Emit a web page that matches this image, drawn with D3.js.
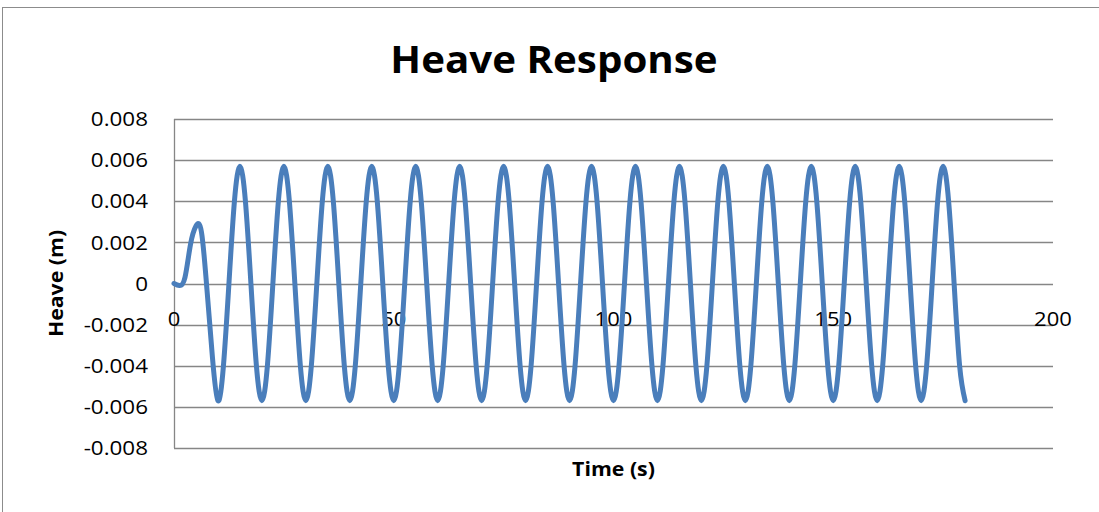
<!DOCTYPE html>
<html>
<head>
<meta charset="utf-8">
<script src="https://cdn.jsdelivr.net/npm/d3@7"></script>
<style>
  html, body { margin: 0; padding: 0; background: #fff; }
  svg { display: block; }
  text { font-family: "Open Sans", "Liberation Sans", sans-serif; fill: #000; }
</style>
</head>
<body>
<svg id="chart" width="1099" height="512"></svg>
<script>
// ---- data ----
const chartTitle = "Heave Response";
const xAxisTitle = "Time (s)";
const yAxisTitle = "Heave (m)";
const xTicks = [0, 50, 100, 150, 200];
const yTicks = [-0.008, -0.006, -0.004, -0.002, 0, 0.002, 0.004, 0.006, 0.008];
const yTickLabels = ["-0.008", "-0.006", "-0.004", "-0.002", "0", "0.002", "0.004", "0.006", "0.008"];

const time = [
  0, 1.25, 2.5, 3.75, 5, 6.25, 7.5, 8.75,
  10, 11.25, 12.5, 13.75, 15, 16.25, 17.5, 18.75,
  20, 21.25, 22.5, 23.75, 25, 26.25, 27.5, 28.75,
  30, 31.25, 32.5, 33.75, 35, 36.25, 37.5, 38.75,
  40, 41.25, 42.5, 43.75, 45, 46.25, 47.5, 48.75,
  50, 51.25, 52.5, 53.75, 55, 56.25, 57.5, 58.75,
  60, 61.25, 62.5, 63.75, 65, 66.25, 67.5, 68.75,
  70, 71.25, 72.5, 73.75, 75, 76.25, 77.5, 78.75,
  80, 81.25, 82.5, 83.75, 85, 86.25, 87.5, 88.75,
  90, 91.25, 92.5, 93.75, 95, 96.25, 97.5, 98.75,
  100, 101.25, 102.5, 103.75, 105, 106.25, 107.5, 108.75,
  110, 111.25, 112.5, 113.75, 115, 116.25, 117.5, 118.75,
  120, 121.25, 122.5, 123.75, 125, 126.25, 127.5, 128.75,
  130, 131.25, 132.5, 133.75, 135, 136.25, 137.5, 138.75,
  140, 141.25, 142.5, 143.75, 145, 146.25, 147.5, 148.75,
  150, 151.25, 152.5, 153.75, 155, 156.25, 157.5, 158.75,
  160, 161.25, 162.5, 163.75, 165, 166.25, 167.5, 168.75,
  170, 171.25, 172.5, 173.75, 175, 176.25, 177.5, 178.75,
  180
];

const heave = [
  0, -0.0001, 0.0003, 0.0019, 0.0028, 0.0025, -0.0003, -0.0036,
  -0.0057, -0.0040, 0, 0.0040, 0.0057, 0.0040, 0, -0.0040,
  -0.0057, -0.0040, 0, 0.0040, 0.0057, 0.0040, 0, -0.0040,
  -0.0057, -0.0040, 0, 0.0040, 0.0057, 0.0040, 0, -0.0040,
  -0.0057, -0.0040, 0, 0.0040, 0.0057, 0.0040, 0, -0.0040,
  -0.0057, -0.0040, 0, 0.0040, 0.0057, 0.0040, 0, -0.0040,
  -0.0057, -0.0040, 0, 0.0040, 0.0057, 0.0040, 0, -0.0040,
  -0.0057, -0.0040, 0, 0.0040, 0.0057, 0.0040, 0, -0.0040,
  -0.0057, -0.0040, 0, 0.0040, 0.0057, 0.0040, 0, -0.0040,
  -0.0057, -0.0040, 0, 0.0040, 0.0057, 0.0040, 0, -0.0040,
  -0.0057, -0.0040, 0, 0.0040, 0.0057, 0.0040, 0, -0.0040,
  -0.0057, -0.0040, 0, 0.0040, 0.0057, 0.0040, 0, -0.0040,
  -0.0057, -0.0040, 0, 0.0040, 0.0057, 0.0040, 0, -0.0040,
  -0.0057, -0.0040, 0, 0.0040, 0.0057, 0.0040, 0, -0.0040,
  -0.0057, -0.0040, 0, 0.0040, 0.0057, 0.0040, 0, -0.0040,
  -0.0057, -0.0040, 0, 0.0040, 0.0057, 0.0040, 0, -0.0040,
  -0.0057, -0.0040, 0, 0.0040, 0.0057, 0.0040, 0, -0.0040,
  -0.0057, -0.0040, 0, 0.0040, 0.0057, 0.0040, 0, -0.0040,
  -0.0057
];

// ---- layout ----
const svg = d3.select("#chart");
const W = 1099, H = 512;
const plot = { left: 174, right: 1053, top: 119, bottom: 448 };
const gridColor = "#868686";
const lineColor = "#4a7ebb";

const x = d3.scaleLinear().domain([0, 200]).range([plot.left, plot.right]);
const y = d3.scaleLinear().domain([-0.008, 0.008]).range([plot.bottom, plot.top]);

function stretch(sel, k) {
  sel.each(function () {
    const w = this.getComputedTextLength();
    d3.select(this).attr("textLength", w * k).attr("lengthAdjust", "spacingAndGlyphs");
  });
}

svg.append("rect").attr("width", W).attr("height", H).attr("fill", "#fff");
// chart frame
svg.append("rect")
  .attr("x", 2.5).attr("y", 7.5).attr("width", W + 10).attr("height", H + 10)
  .attr("fill", "none").attr("stroke", "#8c8c8c").attr("stroke-width", 1);

// gridlines
svg.append("g")
  .selectAll("line").data(yTicks).join("line")
  .attr("x1", plot.left).attr("x2", plot.right)
  .attr("y1", d => Math.round(y(d)) + 0.5).attr("y2", d => Math.round(y(d)) + 0.5)
  .attr("stroke", gridColor).attr("stroke-width", 1.3);

// y axis line
svg.append("line")
  .attr("x1", plot.left + 0.5).attr("x2", plot.left + 0.5)
  .attr("y1", plot.top).attr("y2", plot.bottom)
  .attr("stroke", gridColor).attr("stroke-width", 1.3);

// y tick labels
const yl = svg.append("g")
  .selectAll("text").data(yTicks).join("text")
  .attr("x", 148).attr("y", d => y(d))
  .attr("dy", "0.36em")
  .attr("text-anchor", "end")
  .style("font-size", "20px")
  .text((d, i) => yTickLabels[i]);
stretch(yl, 1.12);

// x tick labels (sit below the y=0 axis)
const xl = svg.append("g")
  .selectAll("text").data(xTicks).join("text")
  .attr("x", d => x(d)).attr("y", y(0) + 35)
  .attr("dy", "0.36em")
  .attr("text-anchor", "middle")
  .style("font-size", "20px")
  .text(d => d);
stretch(xl, 1.1);

// line
const line = d3.line()
  .x((d, i) => x(time[i]))
  .y(d => y(d))
  .curve(d3.curveNatural);

svg.append("path")
  .datum(heave)
  .attr("d", line)
  .attr("fill", "none")
  .attr("stroke", lineColor)
  .attr("stroke-width", 5)
  .attr("stroke-linejoin", "round")
  .attr("stroke-linecap", "round");

// titles
const tt = svg.append("text")
  .attr("x", 554).attr("y", 73)
  .attr("text-anchor", "middle")
  .style("font-size", "38px").style("font-weight", "bold")
  .text(chartTitle);
stretch(tt, 1.06);

const xt = svg.append("text")
  .attr("x", (plot.left + plot.right) / 2).attr("y", 476)
  .attr("text-anchor", "middle")
  .style("font-size", "19px").style("font-weight", "bold")
  .text(xAxisTitle);
stretch(xt, 1.12);

const yt = svg.append("text")
  .attr("transform", `translate(63, ${y(0)}) rotate(-90)`)
  .attr("text-anchor", "middle")
  .style("font-size", "19px").style("font-weight", "bold")
  .text(yAxisTitle);
stretch(yt, 1.12);
</script>
</body>
</html>
